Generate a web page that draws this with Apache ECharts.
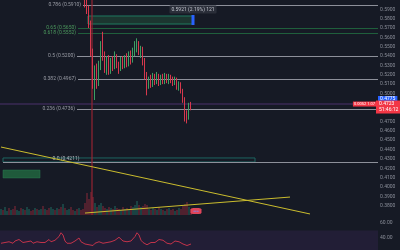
<!DOCTYPE html>
<html lang="en">
<head>
<meta charset="UTF-8">
<title>chart</title>
<script src="https://cdn.jsdelivr.net/npm/echarts@6/dist/echarts.min.js"></script>
<style>
  html, body { margin: 0; padding: 0; background: #161a25; }
  #main { width: 400px; height: 250px; }
</style>
</head>
<body>
<div id="main"></div>
<script>
// slot count across the plot, first slot with a visible candle
var SLOTS = 189;
var FIRST_CANDLE = 42;

// [open, high, low, close] for slots 42..95
var ohlc = [
  [0.612, 0.620, 0.592, 0.595], [0.598, 0.604, 0.585, 0.588], [0.590, 0.594, 0.570, 0.575],
  [0.575, 0.578, 0.540, 0.545], [0.545, 0.548, 0.505, 0.515], [0.505, 0.530, 0.493, 0.525],
  [0.525, 0.532, 0.505, 0.512], [0.512, 0.535, 0.508, 0.530], [0.530, 0.556, 0.525, 0.552],
  [0.552, 0.566, 0.535, 0.540], [0.540, 0.545, 0.522, 0.528], [0.528, 0.540, 0.520, 0.535],
  [0.535, 0.541, 0.520, 0.525], [0.525, 0.538, 0.521, 0.534], [0.534, 0.540, 0.524, 0.529],
  [0.529, 0.545, 0.526, 0.538], [0.538, 0.542, 0.527, 0.531], [0.531, 0.534, 0.521, 0.527],
  [0.527, 0.539, 0.524, 0.535], [0.535, 0.540, 0.526, 0.530], [0.530, 0.541, 0.527, 0.537],
  [0.537, 0.543, 0.528, 0.532], [0.532, 0.545, 0.529, 0.540], [0.540, 0.546, 0.531, 0.536],
  [0.536, 0.549, 0.533, 0.545], [0.545, 0.556, 0.540, 0.550], [0.546, 0.559, 0.544, 0.553],
  [0.553, 0.556, 0.541, 0.545], [0.545, 0.551, 0.538, 0.548], [0.548, 0.550, 0.530, 0.535],
  [0.535, 0.538, 0.515, 0.520], [0.520, 0.523, 0.498, 0.508], [0.508, 0.518, 0.505, 0.515],
  [0.515, 0.520, 0.506, 0.510], [0.510, 0.522, 0.507, 0.517], [0.517, 0.521, 0.509, 0.514],
  [0.514, 0.523, 0.510, 0.519], [0.519, 0.521, 0.508, 0.512], [0.512, 0.520, 0.509, 0.517],
  [0.517, 0.521, 0.510, 0.513], [0.513, 0.522, 0.510, 0.518], [0.518, 0.521, 0.511, 0.514],
  [0.514, 0.521, 0.510, 0.518], [0.518, 0.520, 0.511, 0.515], [0.515, 0.518, 0.508, 0.512],
  [0.512, 0.518, 0.509, 0.515], [0.515, 0.517, 0.504, 0.508], [0.508, 0.513, 0.503, 0.510],
  [0.510, 0.512, 0.500, 0.503], [0.503, 0.505, 0.490, 0.494], [0.494, 0.496, 0.470, 0.478],
  [0.478, 0.482, 0.468, 0.474], [0.474, 0.490, 0.472, 0.485], [0.490, 0.491, 0.482, 0.4877]
];

// volume for slots 0..95 and direction of the slots before the first visible candle
var volume = [
  6, 5, 8, 4, 7, 5, 6, 9, 5, 4, 7, 6, 5, 8, 6, 4, 5, 7, 6, 5, 6,
  9, 6, 5, 7, 8, 6, 5, 7, 6, 8, 11, 7, 5, 6, 8, 5, 4, 6, 7, 5, 6,
  12, 22, 16, 23, 18, 12,
  8, 10, 12, 9, 7, 6, 8, 7, 6, 9, 7, 6, 5, 8, 6, 7, 5, 9, 8, 10,
  14, 10, 8, 9, 11, 10,
  6, 5, 7, 6, 5, 8, 6, 5, 4, 6, 7, 5, 6, 4, 5, 7, 6, 9, 11, 13, 8, 6
];
var earlyUp = [1, 0, 1, 1, 0, 1, 0, 0, 1, 1, 0, 1, 0, 1, 1, 0, 0, 1, 0, 1, 1,
               0, 1, 0, 0, 1, 1, 0, 1, 0, 0, 1, 0, 1, 1, 0, 0, 1, 0, 1, 0, 0];

// oscillator pane, slots 0..95
var rsi = [
  33, 32, 34, 33, 35, 34, 33, 36, 35, 38, 36,
  34, 33, 35, 34, 36, 33, 34, 35, 33, 34,
  35, 34, 36, 38, 35, 36, 37, 39, 42,
  47, 44, 36, 33, 34, 33, 35, 36, 38, 40, 35, 33,
  32, 31, 31, 32, 30, 33,
  34, 35, 34, 33, 35, 34, 36, 35, 34,
  37, 38, 41, 39, 36,
  34, 35, 34, 36, 38, 42,
  47, 44, 37, 34, 32, 31,
  33, 34, 35, 34, 36, 38,
  40, 37, 35, 33, 34, 32,
  34, 36, 37, 35, 33,
  32, 30, 30, 31, 32
];
var rsiTicks = [40, 60];

// fibonacci levels: label text, price on the axis, start slot
var fibLabels = ['0.786 (0.5910)', '0.65 (0.5650)', '0.618 (0.5552)', '0.5 (0.5200)', '0.382 (0.4967)', '0.236 (0.4736)'];
var fibPrices = [0.5947, 0.5700, 0.5647, 0.5401, 0.5155, 0.4834];
var fibStart = [41.5, 39, 39, 38.5, 39, 38.5];
var fibGreen = [false, true, true, false, false, false];

// trend lines [slot, price]
var trendA = [[0.5, 0.4427], [155, 0.3711]];
var trendB = [[42.5, 0.3721], [145, 0.3892]];

var zeroLevel = 0.4267;
var lastPrice = 0.4887;

var myChart = echarts.init(document.getElementById('main'));

var categories = [];
var candles = [];
for (var i = 0; i < SLOTS; i++) {
  categories.push(String(i));
  var k = i - FIRST_CANDLE;
  if (k >= 0 && k < ohlc.length) {
    var r = ohlc[k];
    candles.push([r[0], r[3], r[2], r[1]]);
  } else {
    candles.push(['-', '-', '-', '-']);
  }
}

var volBars = volume.map(function (v, i) {
  var k = i - FIRST_CANDLE;
  var up = k >= 0 ? ohlc[k][3] >= ohlc[k][0] : earlyUp[i] === 1;
  return { value: v, itemStyle: { color: up ? 'rgba(38,150,130,0.55)' : 'rgba(200,50,70,0.55)' } };
});

var lineGray = '#8d909a';
var lineGreen = '#1f5f3c';

var fibLines = fibPrices.map(function (p, i) {
  var c = fibGreen[i] ? lineGreen : lineGray;
  return [
    {
      coord: [fibStart[i], p],
      lineStyle: { color: c, width: fibGreen[i] ? 1 : 1.2, type: 'solid' },
      label: { show: true, position: 'start', distance: 2, formatter: fibLabels[i],
               color: fibGreen[i] ? '#4c9a5e' : '#9a9da6', fontSize: 5 }
    },
    { coord: [SLOTS, p] }
  ];
});

var option = {
  backgroundColor: '#161a25',
  animation: false,
  textStyle: { fontFamily: 'Roboto, sans-serif' },
  grid: [
    { left: 0, right: 22, top: 0, bottom: 35 },
    { left: 0, right: 22, top: 185, height: 30 },
    { left: 0, right: 22, top: 208, bottom: 0 }
  ],
  xAxis: [
    { type: 'category', data: categories, gridIndex: 0, show: false, boundaryGap: true },
    { type: 'value', min: 0, max: SLOTS, gridIndex: 0, show: false },
    { type: 'category', data: categories, gridIndex: 1, show: false, boundaryGap: true },
    { type: 'value', min: 0, max: SLOTS, gridIndex: 2, show: false }
  ],
  yAxis: [
    {
      type: 'value', gridIndex: 0, position: 'right', min: 0.37, max: 0.60, interval: 0.01,
      splitLine: { show: false }, axisLine: { show: false }, axisTick: { show: false },
      axisLabel: { fontSize: 5, color: '#8a8e99', margin: 2, showMaxLabel: false, showMinLabel: false,
                   formatter: function (v) { return v.toFixed(4); } }
    },
    { type: 'value', gridIndex: 1, min: 0, max: 30, show: false },
    {
      type: 'value', gridIndex: 2, position: 'right', min: 24, max: 80,
      splitLine: { show: false }, axisLine: { show: false }, axisTick: { show: false },
      axisLabel: { fontSize: 5, color: '#8a8e99', margin: 2, customValues: rsiTicks,
                   showMinLabel: true, showMaxLabel: true,
                   formatter: function (v) { return Number(v).toFixed(2); } }
    }
  ],
  series: [
    {
      name: 'price', type: 'candlestick', xAxisIndex: 0, yAxisIndex: 0,
      data: candles, barMaxWidth: 1.4, clip: true, z: 5,
      itemStyle: { color: '#3d9e63', color0: '#d6384d', borderColor: '#3d9e63', borderColor0: '#d6384d', borderWidth: 1 }
    },
    {
      name: 'trendA', type: 'line', xAxisIndex: 1, yAxisIndex: 0, data: trendA,
      symbol: 'none', lineStyle: { color: '#cbbd2e', width: 1 }, z: 6,
      markLine: {
        symbol: ['none', 'none'], silent: true, animation: false,
        data: fibLines.concat([
          [{ coord: [1.5, zeroLevel], lineStyle: { color: lineGray, width: 1, type: 'solid' }, label: { show: false } },
           { coord: [SLOTS, zeroLevel] }],
          [{ coord: [0, lastPrice], lineStyle: { color: '#3a2a55', width: 1.5, type: 'solid' }, label: { show: false } },
           { coord: [SLOTS, lastPrice] }],
          [{ coord: [46, 0.37], lineStyle: { color: 'rgba(150,35,50,0.6)', width: 2, type: 'solid' }, label: { show: false } },
           { coord: [46, 0.60] }]
        ])
      },
      markArea: {
        silent: true,
        data: [
          [{ coord: [44, 0.5829], itemStyle: { color: 'rgba(40,110,70,0.35)', borderColor: '#1f7a60', borderWidth: 1 } },
           { coord: [96.5, 0.5743] }],
          [{ coord: [1.5, 0.4310], itemStyle: { color: 'rgba(0,0,0,0)', borderColor: '#1d6460', borderWidth: 1 } },
           { coord: [127.5, zeroLevel] }],
          [{ coord: [1.5, 0.4181], itemStyle: { color: '#1f5a3b', borderColor: '#2a7a50', borderWidth: 0.5 } },
           { coord: [20, 0.4096] }]
        ]
      },
      markPoint: {
        silent: true, animation: false,
        data: [
          { coord: [96.5, 0.5898], symbolSize: 0,
            label: { show: true, position: 'inside', formatter: '0.5921 (2.19%) 121', fontSize: 5, color: '#c0c3cc',
                     backgroundColor: '#2a2e39', padding: [1.5, 2], borderRadius: 1 } },
          { coord: [96.5, 0.5786], symbol: 'rect', symbolSize: [3, 10], itemStyle: { color: '#2962ff' }, label: { show: false } },
          { coord: [33, 0.4298], symbolSize: 0,
            label: { show: true, position: 'inside', formatter: '0.0 (0.4211)', fontSize: 5, color: '#b0b3bc' } },
          { coord: [SLOTS, 0.4941], symbolSize: 0,
            label: { show: true, position: 'right', distance: 0, formatter: '0.4775', fontSize: 5, color: '#ffffff',
                     backgroundColor: '#2962ff', padding: [0.5, 2] } },
          { coord: [188, 0.4855], symbolSize: 0,
            label: { show: true, position: 'right', distance: 0, formatter: '0.4723\n51:46:12', fontSize: 5, lineHeight: 6,
                     color: '#ffffff', backgroundColor: '#f23645', padding: [0.5, 3] } },
          { coord: [188, lastPrice], symbolSize: 0,
            label: { show: true, position: 'left', distance: 0, formatter: '0.0052 1.07', fontSize: 4, color: '#ffffff',
                     backgroundColor: '#f23645', padding: [0.5, 1] } },
          { coord: [98, 0.3743], symbol: 'roundRect', symbolSize: [11, 6], itemStyle: { color: '#e0455a' },
            label: { show: true, position: 'inside', formatter: '\u25CF\u25CF\u25CF', fontSize: 3, color: '#6f8fff' } }
        ]
      }
    },
    {
      name: 'trendB', type: 'line', xAxisIndex: 1, yAxisIndex: 0, data: trendB,
      symbol: 'none', lineStyle: { color: '#cbbd2e', width: 1 }, z: 6
    },
    {
      name: 'volume', type: 'bar', xAxisIndex: 2, yAxisIndex: 1, data: volBars, barWidth: '60%', z: 2
    },
    {
      name: 'rsi', type: 'line', xAxisIndex: 3, yAxisIndex: 2,
      data: rsi.map(function (v, i) { return [i + 0.5, v]; }),
      symbol: 'none', lineStyle: { color: '#c2334a', width: 1 }, z: 3,
      markArea: {
        silent: true,
        data: [[{ yAxis: 24, itemStyle: { color: '#221e36' } }, { yAxis: 50 }]]
      }
    }
  ]
};

myChart.setOption(option);
</script>
</body>
</html>
